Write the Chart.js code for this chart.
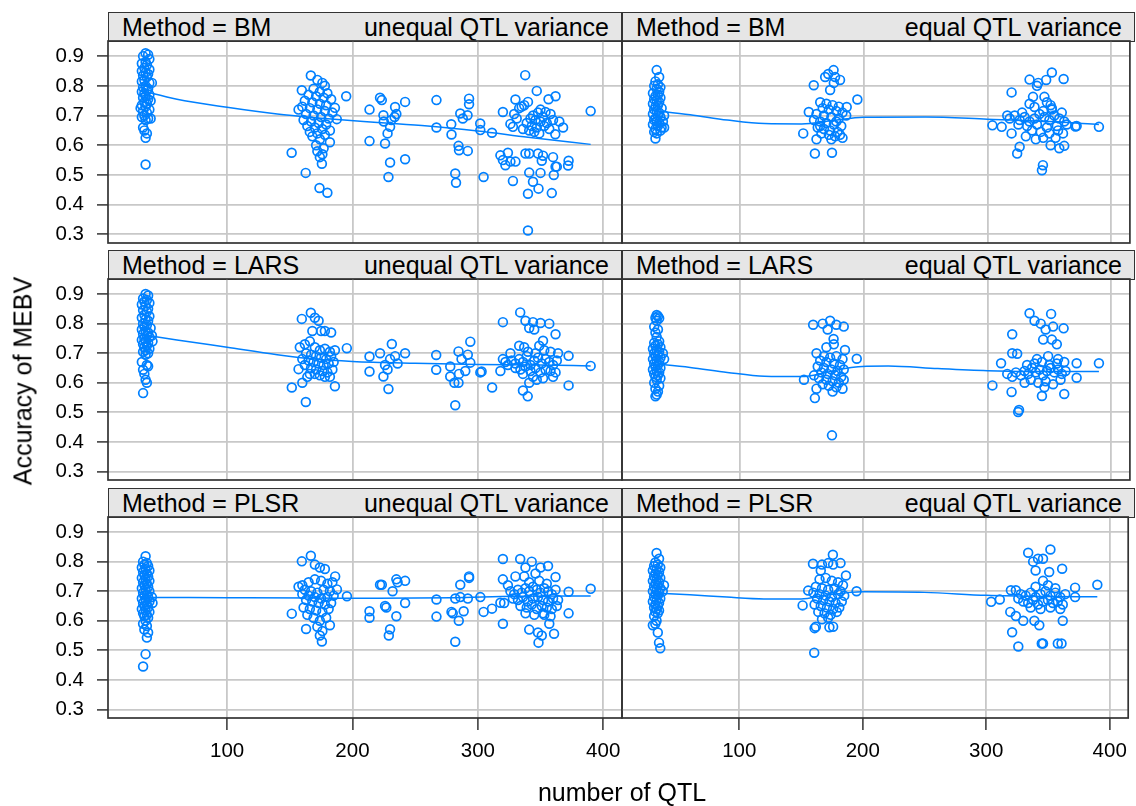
<!DOCTYPE html>
<html>
<head>
<meta charset="utf-8">
<script src="https://cdn.jsdelivr.net/npm/chart.js@4.4.1/dist/chart.umd.min.js"></script>
<style>
  body { margin: 0; background: #fff; font-family: "Liberation Sans", Arial, sans-serif; }
  #wrap { position: relative; width: 1136px; height: 806px; overflow: hidden; }
  #wrap canvas { position: absolute; left: 0; top: 0; }
  .strip { position: absolute; box-sizing: border-box; border: 1.6px solid #333; background: #e6e6e6;
           display: flex; justify-content: space-between; align-items: center;
           padding: 0 12px 0 13px; font-size: 25px; color: #000; white-space: nowrap; }
  .ytitle { position: absolute; font-size: 25px; white-space: nowrap; transform: translate(-50%, -50%) rotate(-90deg); }
  .xtitle { position: absolute; font-size: 25px; white-space: nowrap; transform: translate(-50%, 0); }
</style>
</head>
<body>
<div id="wrap"></div>
<script>
// valeurs : [nombre de QTL, précision]
const xTicks = [100, 200, 300, 400];
const yTicks = [0.3, 0.4, 0.5, 0.6, 0.7, 0.8, 0.9];
const methods = ['BM', 'LARS', 'PLSR'];
const variances = ['unequal QTL variance', 'equal QTL variance'];

const bmUnequal = [
  [35,0.91],[37,0.905],[33,0.9],[38,0.89],[35,0.88],[32,0.875],[36,0.87],[34,0.86],[38,0.855],[32,0.85],
  [35,0.845],[37,0.84],[33,0.835],[36,0.83],[34,0.82],[32,0.815],[38,0.81],[40,0.81],[35,0.8],[33,0.795],
  [37,0.79],[36,0.785],[32,0.78],[34,0.775],[38,0.77],[35,0.765],[33,0.76],[37,0.755],[39,0.75],[34,0.745],
  [36,0.74],[32,0.735],[35,0.73],[31,0.725],[38,0.72],[33,0.715],[36,0.71],[34,0.7],[32,0.695],[37,0.69],
  [39,0.69],[35,0.685],[33,0.66],[34,0.65],[36,0.64],[35,0.625],[35,0.535],
  [151.5,0.575],[162.7,0.507],[173.7,0.456],[180,0.44],[166.8,0.835],[159.6,0.785],[195,0.765],[186,0.726],
  [187.5,0.688],[157,0.72],[182,0.61],[175.6,0.538],[174,0.56],[172,0.82],[176,0.81],[178,0.8],[169,0.79],
  [174,0.78],[180,0.775],[165,0.77],[171,0.765],[177,0.76],[183,0.755],[162,0.75],[168,0.745],[174,0.74],
  [179,0.735],[160,0.73],[166,0.725],[172,0.72],[178,0.715],[184,0.71],[163,0.705],[169,0.7],[175,0.695],
  [181,0.69],[161,0.685],[167,0.68],[173,0.675],[179,0.67],[164,0.665],[170,0.66],[176,0.655],[182,0.65],
  [166,0.645],[172,0.64],[178,0.635],[168,0.63],[174,0.62],[171,0.6],[177,0.59],[172,0.58],[176,0.57],
  [213.6,0.72],[213.6,0.614],[222,0.76],[223.4,0.752],[224.7,0.701],[226,0.606],[230,0.542],[228.7,0.493],
  [230,0.662],[228,0.64],[234,0.729],[233.6,0.695],[235,0.705],[242,0.746],[242,0.553],[225,0.68],[231,0.685],
  [267,0.752],[267,0.66],[278.8,0.671],[279,0.636],[282,0.505],[282.6,0.474],[284.6,0.598],[285,0.583],
  [286,0.707],[288,0.69],[291.8,0.701],[292,0.581],[293,0.757],[293,0.738],[301.9,0.673],[302,0.651],
  [304.6,0.493],[311.3,0.642],[320,0.712],
  [337.8,0.836],[347,0.783],[362,0.765],[356.4,0.755],[330,0.754],[390,0.715],[337,0.735],[340,0.746],
  [333,0.725],[335,0.73],[350,0.72],[354,0.712],[329,0.705],[331,0.69],[344,0.7],[348,0.71],[352,0.695],
  [358,0.705],[342,0.69],[346,0.685],[350,0.68],[355,0.675],[360,0.685],[339,0.675],[343,0.665],[347,0.66],
  [353,0.665],[357,0.655],[341,0.65],[345,0.645],[349,0.64],[336,0.655],[361.8,0.637],[326,0.672],[328,0.662],
  [318,0.566],[320,0.55],[322,0.533],[326,0.545],[330,0.545],[324,0.575],[328,0.48],[338,0.572],[341,0.572],
  [348,0.572],[352,0.565],[351,0.548],[360,0.56],[362,0.528],[363,0.528],[372.4,0.548],[372,0.532],[341,0.508],
  [344,0.477],[348.4,0.454],[340,0.437],[359,0.439],[360.6,0.5],[350,0.507],[340,0.313],[365,0.68],[368,0.66]
];
const bmUnequalFit = [[31,0.784],[60,0.755],[100,0.728],[140,0.705],[170,0.693],[220,0.677],[260,0.665],[300,0.648],[340,0.627],[390,0.603]];

const bmEqual = [
  [33,0.853],[35,0.83],[32,0.815],[34,0.805],[31,0.8],[36,0.795],[33,0.79],[35,0.78],[30,0.775],[34,0.77],
  [32,0.765],[36,0.76],[31,0.755],[33,0.75],[35,0.745],[30,0.74],[34,0.735],[32,0.73],[37,0.725],[31,0.72],
  [33,0.715],[35,0.71],[30,0.705],[34,0.7],[36,0.695],[32,0.69],[31,0.685],[33,0.68],[35,0.675],[30,0.67],
  [34,0.665],[37,0.66],[32,0.655],[36,0.65],[31,0.645],[33,0.64],[32,0.623],[39,0.7],[38,0.68],[39,0.66],
  [151.3,0.64],[160.7,0.572],[174.5,0.575],[175.8,0.853],[171.5,0.84],[169,0.83],[177,0.83],[181,0.82],
  [159.8,0.802],[173,0.786],[176,0.81],[195,0.754],[186.4,0.729],[155.8,0.712],[186,0.7],[165,0.745],
  [170,0.74],[175,0.735],[180,0.73],[167,0.725],[172,0.72],[178,0.715],[183,0.71],[162,0.705],[168,0.7],
  [174,0.695],[180,0.69],[160,0.685],[165,0.68],[170,0.675],[176,0.67],[182,0.665],[163,0.66],[168,0.655],
  [173,0.65],[179,0.645],[166,0.64],[172,0.635],[177,0.63],[162,0.62],[174,0.62],[183,0.625],[181,0.635],
  [165,0.665],[178,0.68],
  [304,0.667],[311.5,0.662],[319.5,0.778],[334,0.821],[341,0.81],[340,0.8],[347.4,0.82],[352,0.845],
  [361.5,0.823],[336.8,0.763],[346,0.763],[351,0.735],[352,0.725],[338,0.729],[319.5,0.64],[326,0.595],
  [324,0.572],[344.8,0.533],[344,0.516],[362,0.598],[358,0.59],[351,0.6],[390,0.662],[371,0.663],[372,0.665],
  [318,0.69],[322,0.7],[326,0.685],[330,0.695],[334,0.68],[338,0.69],[342,0.705],[346,0.695],[350,0.685],
  [354,0.7],[358,0.69],[362,0.68],[325,0.67],[332,0.665],[340,0.67],[348,0.66],[356,0.665],[364,0.67],
  [336,0.65],[343,0.645],[350,0.64],[357,0.65],[361,0.64],[331,0.63],[345,0.625],[339,0.62],[355,0.625],
  [316,0.7],[328,0.71],[345,0.715],[352,0.72],[360,0.71],[334,0.74],[348,0.745]
];
const bmEqualFit = [[29,0.718],[60,0.703],[90,0.685],[120,0.673],[150,0.672],[175,0.683],[200,0.694],[250,0.695],[300,0.688],[350,0.68],[390,0.67]];

const larsUnequal = [
  [35,0.9],[37,0.895],[33,0.885],[36,0.88],[34,0.875],[38,0.87],[32,0.865],[35,0.86],[37,0.85],[33,0.845],
  [36,0.84],[34,0.83],[38,0.825],[32,0.82],[35,0.815],[37,0.81],[33,0.8],[36,0.795],[34,0.79],[39,0.785],
  [32,0.78],[35,0.775],[37,0.77],[33,0.765],[36,0.76],[38,0.755],[34,0.75],[32,0.745],[35,0.74],[37,0.735],
  [33,0.73],[36,0.725],[34,0.72],[38,0.715],[35,0.71],[33,0.705],[37,0.7],[35,0.695],[32,0.67],[36,0.66],
  [33,0.644],[37,0.656],[34,0.63],[35,0.61],[36,0.6],[33,0.565],[40,0.76],[40.5,0.74],
  [151.6,0.584],[162.8,0.535],[159.6,0.816],[166.8,0.837],[170,0.82],[173,0.81],[168,0.775],[175,0.775],
  [178,0.775],[183,0.77],[195.5,0.717],[186,0.588],[157,0.646],[160,0.6],[164,0.62],[158,0.72],[162,0.73],
  [166,0.74],[170,0.72],[174,0.71],[178,0.715],[182,0.705],[186,0.71],[163,0.7],[167,0.695],[171,0.69],
  [175,0.685],[179,0.68],[183,0.69],[160,0.68],[165,0.675],[169,0.67],[173,0.665],[177,0.66],[181,0.665],
  [185,0.67],[162,0.66],[167,0.65],[171,0.645],[176,0.64],[180,0.635],[184,0.645],[170,0.63],[174,0.625],
  [178,0.62],[166,0.63],[182,0.62],
  [213.6,0.689],[213.6,0.638],[222,0.7],[224.7,0.621],[228.7,0.579],[231.4,0.731],[226,0.66],[228,0.645],
  [230,0.68],[242,0.7],[234,0.69],[236,0.665],[266.8,0.694],[266.8,0.644],[278,0.655],[278,0.621],[282,0.524],
  [281.3,0.6],[284.6,0.6],[285,0.63],[284.6,0.706],[287,0.68],[290,0.64],[292,0.695],[294,0.739],[294,0.668],
  [302,0.635],[303,0.638],[311.4,0.584],[320,0.805],[318,0.64],
  [333.8,0.838],[338,0.81],[344,0.805],[350,0.802],[357,0.8],[341,0.785],[345,0.78],[362,0.764],[352,0.742],
  [333,0.725],[372.4,0.691],[390,0.657],[372.4,0.591],[336,0.574],[339.8,0.554],[320,0.68],[322,0.67],
  [324,0.66],[327,0.675],[330,0.665],[333,0.68],[336,0.67],[339,0.69],[342,0.66],[345,0.675],[348,0.685],
  [351,0.665],[354,0.68],[357,0.67],[360,0.66],[363,0.675],[330,0.65],[334,0.645],[338,0.655],[342,0.64],
  [346,0.65],[350,0.635],[354,0.645],[358,0.64],[362,0.635],[336,0.63],[344,0.62],[352,0.615],[360,0.62],
  [340,0.705],[346,0.7],[353,0.71],[358,0.705],[364,0.7],[326,0.7],[337,0.72],[349,0.725],[341,0.6],[347,0.61]
];
const larsUnequalFit = [[31,0.764],[60,0.745],[100,0.72],[140,0.695],[170,0.68],[200,0.672],[250,0.666],[300,0.662],[350,0.66],[390,0.657]];

const larsEqual = [
  [33,0.829],[34,0.825],[32,0.82],[35,0.818],[33,0.81],[31,0.79],[34,0.78],[32,0.77],[33,0.755],[35,0.74],
  [31,0.735],[34,0.73],[32,0.725],[36,0.72],[30,0.715],[33,0.71],[35,0.705],[31,0.7],[34,0.695],[32,0.69],
  [36,0.685],[30,0.68],[33,0.675],[35,0.67],[31,0.665],[34,0.66],[32,0.655],[36,0.65],[30,0.645],[33,0.64],
  [35,0.635],[31,0.63],[34,0.625],[32,0.62],[36,0.615],[33,0.61],[31,0.6],[35,0.59],[32,0.58],[34,0.57],
  [33,0.56],[32,0.554],[38,0.7],[39,0.68],
  [151.9,0.61],[160.7,0.548],[174.5,0.422],[159.3,0.796],[167,0.8],[173,0.81],[178,0.796],[184,0.79],
  [171,0.78],[175.8,0.748],[185,0.711],[194.5,0.681],[162,0.7],[168,0.69],[173,0.685],[178,0.69],[183,0.68],
  [165,0.675],[170,0.67],[176,0.665],[181,0.66],[163,0.655],[168,0.65],[174,0.645],[179,0.64],[184,0.645],
  [166,0.635],[171,0.63],[177,0.625],[182,0.62],[160,0.625],[164,0.615],[170,0.61],[175,0.605],[180,0.6],
  [184,0.61],[167,0.595],[172,0.59],[178,0.585],[183,0.58],[162,0.58],[175,0.57],[170,0.72],[176,0.73],
  [304,0.591],[311,0.666],[320,0.764],[319.5,0.569],[324.8,0.501],[325.5,0.508],[334,0.835],[351.4,0.833],
  [338,0.81],[343,0.8],[347,0.78],[353,0.79],[361.5,0.784],[345,0.746],[352,0.746],[356,0.73],[320,0.7],
  [324,0.698],[372,0.666],[372,0.617],[390,0.666],[362,0.562],[344,0.555],[316,0.63],[320,0.62],[323,0.635],
  [327,0.625],[330,0.64],[333,0.63],[336,0.65],[339,0.635],[342,0.645],[345,0.625],[348,0.64],[351,0.65],
  [354,0.635],[357,0.645],[360,0.63],[363,0.64],[332,0.66],[338,0.665],[344,0.67],[350,0.66],[356,0.665],
  [362,0.67],[335,0.61],[341,0.6],[347,0.605],[353,0.595],[359,0.61],[340,0.68],[349,0.69],[357,0.68],
  [346,0.585],[330,0.6]
];
const larsEqualFit = [[29,0.665],[60,0.652],[90,0.635],[120,0.622],[150,0.621],[170,0.635],[190,0.652],[220,0.657],[260,0.648],[300,0.641],[350,0.638],[390,0.638]];

const plsrUnequal = [
  [35,0.818],[33,0.8],[36,0.795],[34,0.79],[37,0.785],[32,0.78],[35,0.775],[38,0.77],[33,0.765],[36,0.76],
  [34,0.755],[37,0.75],[32,0.745],[35,0.74],[38,0.735],[33,0.73],[36,0.725],[34,0.72],[37,0.715],[32,0.71],
  [35,0.705],[38,0.7],[33,0.695],[36,0.69],[34,0.685],[37,0.68],[32,0.675],[35,0.67],[38,0.665],[33,0.66],
  [36,0.655],[34,0.65],[37,0.645],[32,0.64],[35,0.635],[38,0.63],[33,0.625],[36,0.62],[34,0.615],[37,0.61],
  [35,0.6],[33,0.59],[36,0.582],[34,0.57],[37,0.56],[36,0.543],[35,0.487],[33,0.445],[40,0.68],[40.5,0.66],
  [151.6,0.624],[159.6,0.801],[166.8,0.82],[170,0.79],[174,0.78],[178,0.775],[186.2,0.75],[195.6,0.683],
  [187.6,0.706],[163,0.572],[175.6,0.53],[174,0.55],[182,0.585],[157,0.715],[160,0.72],[165,0.73],[170,0.74],
  [175,0.735],[180,0.725],[184,0.73],[162,0.705],[167,0.7],[172,0.695],[177,0.705],[182,0.7],[160,0.69],
  [165,0.685],[170,0.68],[175,0.675],[180,0.68],[185,0.685],[163,0.67],[168,0.665],[173,0.66],[178,0.655],
  [183,0.66],[161,0.645],[166,0.64],[171,0.635],[176,0.63],[181,0.64],[164,0.62],[169,0.61],[174,0.6],
  [179,0.61],[172,0.58],[176,0.565],
  [213.6,0.632],[213.6,0.61],[222,0.722],[223.4,0.722],[226,0.65],[227,0.645],[230,0.571],[229,0.55],
  [232,0.7],[235,0.74],[236,0.73],[242,0.735],[242,0.66],[235,0.615],[267,0.672],[267,0.614],[279,0.63],
  [280,0.625],[282,0.675],[282,0.529],[284.8,0.6],[286,0.68],[286,0.722],[288.7,0.632],[293,0.745],[293,0.75],
  [292,0.675],[302,0.68],[304.6,0.63],[311.3,0.641],[318,0.661],[320,0.809],[320,0.59],[320,0.74],
  [333.8,0.809],[338,0.78],[343,0.8],[350,0.78],[356,0.785],[330,0.75],[337,0.75],[362,0.748],[372.4,0.698],
  [390,0.708],[372.4,0.625],[360.8,0.556],[341,0.57],[348,0.56],[348.4,0.526],[351,0.55],[357,0.59],[352,0.625],
  [353,0.62],[326,0.7],[329,0.69],[332,0.705],[335,0.695],[338,0.71],[341,0.7],[344,0.715],[347,0.705],
  [350,0.695],[353,0.71],[356,0.7],[359,0.69],[362,0.705],[328,0.675],[332,0.67],[336,0.68],[340,0.665],
  [344,0.675],[348,0.68],[352,0.67],[356,0.665],[360,0.675],[364,0.67],[334,0.65],[339,0.645],[343,0.655],
  [347,0.64],[351,0.65],[355,0.645],[359,0.64],[363,0.65],[338,0.625],[345,0.62],[358,0.615],[341,0.73],
  [349,0.735],[355,0.725],[346,0.76],[321,0.66],[324,0.72]
];
const plsrUnequalFit = [[31,0.679],[100,0.678],[170,0.677],[220,0.676],[280,0.678],[330,0.683],[390,0.684]];

const plsrEqual = [
  [33,0.829],[35,0.81],[32,0.797],[34,0.79],[31,0.785],[36,0.78],[33,0.775],[30,0.77],[35,0.765],[32,0.76],
  [34,0.755],[31,0.75],[36,0.745],[33,0.74],[30,0.735],[35,0.73],[32,0.725],[34,0.72],[31,0.715],[36,0.71],
  [33,0.705],[30,0.7],[35,0.695],[32,0.69],[34,0.685],[31,0.68],[36,0.675],[33,0.67],[30,0.665],[35,0.66],
  [32,0.655],[34,0.65],[31,0.645],[33,0.64],[35,0.635],[32,0.63],[34,0.625],[31,0.616],[33,0.6],[32,0.59],
  [30,0.585],[34,0.56],[35,0.526],[36,0.507],[38,0.7],[39,0.72],
  [151.3,0.652],[160.7,0.492],[161,0.575],[162,0.58],[173,0.578],[176,0.58],[175.8,0.823],[159.7,0.793],
  [167,0.79],[172,0.795],[176,0.79],[182,0.795],[166,0.77],[186.4,0.753],[195,0.7],[155.8,0.702],[165,0.74],
  [170,0.745],[175,0.735],[180,0.73],[184,0.72],[162,0.715],[167,0.71],[172,0.705],[177,0.71],[182,0.7],
  [160,0.695],[165,0.69],[170,0.685],[175,0.68],[180,0.69],[185,0.685],[163,0.675],[168,0.67],[173,0.665],
  [178,0.66],[183,0.665],[161,0.655],[166,0.65],[171,0.645],[176,0.64],[181,0.645],[164,0.63],[169,0.625],
  [174,0.62],[179,0.63],[167,0.605],[172,0.61],
  [304,0.664],[311,0.672],[320,0.703],[324,0.703],[319.5,0.63],[321,0.561],[326,0.513],[334,0.83],[352,0.841],
  [342,0.81],[346,0.81],[338,0.8],[361.5,0.776],[340,0.77],[351,0.765],[346,0.735],[372,0.712],[390,0.722],
  [372,0.68],[330,0.6],[339,0.6],[343,0.585],[345,0.523],[346,0.523],[358,0.523],[361,0.523],[362,0.6],
  [324,0.616],[328,0.69],[332,0.685],[336,0.695],[340,0.68],[344,0.69],[348,0.7],[352,0.685],[356,0.695],
  [360,0.68],[364,0.69],[330,0.665],[334,0.66],[338,0.67],[342,0.655],[346,0.665],[350,0.67],[354,0.66],
  [358,0.665],[362,0.655],[336,0.645],[344,0.64],[352,0.645],[360,0.64],[326,0.675],[340,0.715],[350,0.72],
  [356,0.71]
];
const plsrEqualFit = [[29,0.694],[60,0.688],[90,0.68],[120,0.674],[150,0.674],[170,0.686],[200,0.698],[250,0.696],[300,0.686],[350,0.682],[390,0.681]];

// panneaux : ligne = méthode, colonne = variance
const panelPoints = [[bmUnequal, bmEqual], [larsUnequal, larsEqual], [plsrUnequal, plsrEqual]];
const panelFits = [[bmUnequalFit, bmEqualFit], [larsUnequalFit, larsEqualFit], [plsrUnequalFit, plsrEqualFit]];

const W = 1136, H = 806;
const BLUE = '#0080ff';
const GRID = '#c8c8c8';
const INK = '#333333';
const cols = [{ left: 108, right: 622 }, { left: 622, right: 1135 }];
const rows = [{ strip: 12, top: 41, bottom: 243 }, { strip: 250, top: 279, bottom: 480 }, { strip: 488, top: 517, bottom: 718 }];
const Y_AXIS_W = 100, X_AXIS_H = 70;

Chart.defaults.font.family = '"Liberation Sans", Arial, sans-serif';
Chart.defaults.color = '#000';

// cadre noir autour de chaque panneau
const panelBox = {
  id: 'panelBox',
  afterDraw(chart) {
    const a = chart.chartArea, ctx = chart.ctx;
    ctx.save();
    ctx.strokeStyle = INK;
    ctx.lineWidth = 1.7;
    ctx.strokeRect(a.left, a.top, a.right - a.left, a.bottom - a.top);
    ctx.restore();
  }
};

const wrap = document.getElementById('wrap');

function makePanel(r, c) {
  const row = rows[r], col = cols[c];
  const isLeft = c === 0, isBottom = r === rows.length - 1;
  const yw = isLeft ? Y_AXIS_W : 0;
  const xh = isBottom ? X_AXIS_H : 0;

  const strip = document.createElement('div');
  strip.className = 'strip';
  strip.style.left = col.left + 'px';
  strip.style.top = row.strip + 'px';
  strip.style.width = (col.right - col.left) + 'px';
  strip.style.height = (row.top - row.strip + 1) + 'px';
  strip.innerHTML = '<span>Method = ' + methods[r] + '</span><span>' + variances[c] + '</span>';
  wrap.appendChild(strip);

  const canvas = document.createElement('canvas');
  canvas.width = W; canvas.height = H;
  canvas.style.width = W + 'px'; canvas.style.height = H + 'px';
  wrap.appendChild(canvas);

  new Chart(canvas, {
    type: 'scatter',
    data: {
      datasets: [
        {
          type: 'line',
          data: panelFits[r][c].map(p => ({ x: p[0], y: p[1] })),
          borderColor: BLUE, borderWidth: 1.5, pointRadius: 0, fill: false,
          tension: 0.4, cubicInterpolationMode: 'monotone'
        },
        {
          data: panelPoints[r][c].map(p => ({ x: p[0], y: p[1] })),
          pointStyle: 'circle', pointRadius: 4.4, pointBorderWidth: 1.7,
          pointBorderColor: BLUE, pointBackgroundColor: 'rgba(0,0,0,0)'
        }
      ]
    },
    options: {
      responsive: false, animation: false, devicePixelRatio: 1,
      layout: { padding: { left: col.left - yw, right: W - col.right, top: row.top, bottom: H - row.bottom - xh } },
      plugins: { legend: { display: false }, tooltip: { enabled: false } },
      scales: {
        x: {
          type: 'linear', min: 5, max: 415,
          afterFit: s => { s.height = xh; },
          afterBuildTicks: s => { s.ticks = xTicks.map(v => ({ value: v })); },
          grid: { color: GRID, lineWidth: 1.8, drawTicks: isBottom, tickLength: 12, tickColor: INK, tickWidth: 1.5 },
          border: { display: false },
          ticks: { display: isBottom, padding: 9, autoSkip: false, maxRotation: 0, font: { size: 20.5 }, color: '#000',
                   callback: v => String(v) }
        },
        y: {
          type: 'linear', min: 0.271, max: 0.951,
          afterFit: s => { s.width = yw; },
          afterBuildTicks: s => { s.ticks = yTicks.map(v => ({ value: v })); },
          grid: { color: GRID, lineWidth: 1.8, drawTicks: isLeft, tickLength: 11, tickColor: INK, tickWidth: 1.5 },
          border: { display: false },
          ticks: { display: isLeft, padding: 13, autoSkip: false, font: { size: 20.5 }, color: '#000',
                   callback: v => v.toFixed(1) }
        }
      }
    },
    plugins: [panelBox]
  });
}

for (let r = 0; r < rows.length; r++) {
  for (let c = 0; c < cols.length; c++) makePanel(r, c);
}

const yt = document.createElement('div');
yt.className = 'ytitle';
yt.textContent = 'Accuracy of MEBV';
yt.style.left = '23px'; yt.style.top = '381px';
wrap.appendChild(yt);

const xt = document.createElement('div');
xt.className = 'xtitle';
xt.textContent = 'number of QTL';
xt.style.left = '622px'; xt.style.top = '778px';
wrap.appendChild(xt);
</script>
</body>
</html>
